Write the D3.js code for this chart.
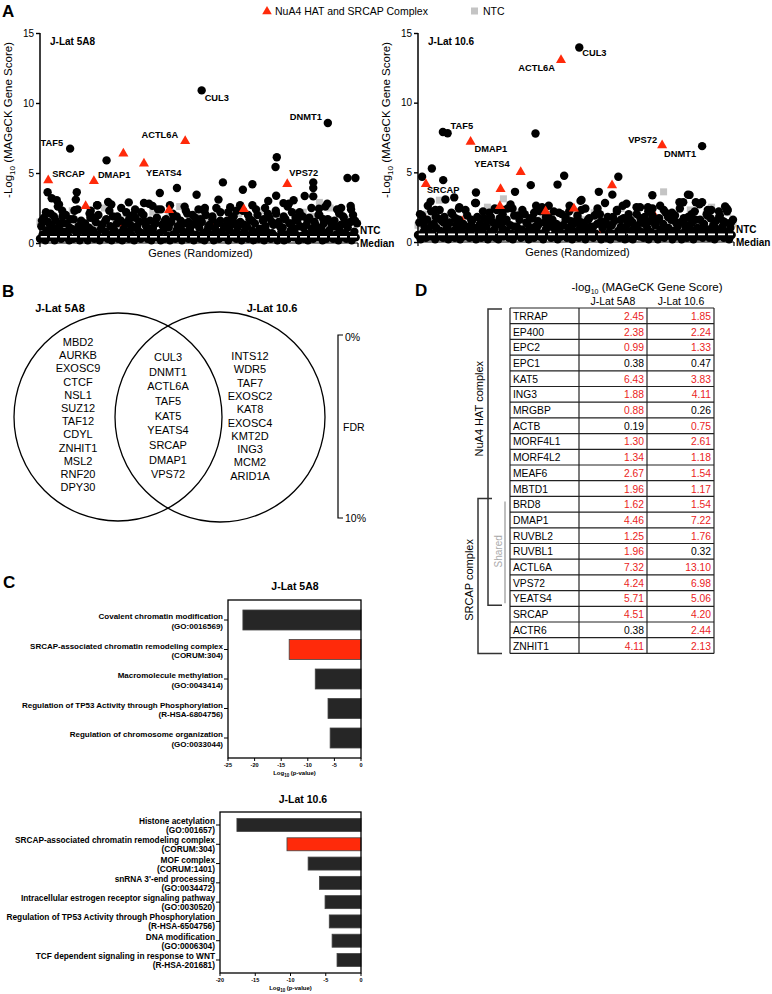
<!DOCTYPE html>
<html><head><meta charset="utf-8">
<script src="https://cdn.jsdelivr.net/npm/d3@7"></script>
<style>
body{margin:0;background:#fff}
svg{display:block}
text{font-family:"Liberation Sans",Arial,Helvetica,sans-serif}
</style>
</head><body>
<svg id="fig" width="772" height="994"></svg>
<script>
// ================= DATA =================
// Panel A : -log10 MAGeCK gene score, genes in randomized order (x = rank fraction 0..1)
const scatterTicks = [0, 5, 10, 15];
const median5A8 = 0.45, median106 = 0.55;

// bulk of genes (black circles), in randomized order
const band5A8 = [
0.3,1.2,0.6,1.8,0.2,0.9,1.5,0.4,2.1,0.7,1.1,0.2,1.6,0.5,0.9,1.3,0.3,1.9,0.8,0.4,
1.4,0.6,0.2,1.7,1.0,0.3,2.3,0.8,0.5,1.2,0.2,1.6,0.9,0.4,1.4,0.7,0.2,1.1,1.8,0.5,
0.9,0.3,1.5,0.6,2.0,0.2,1.0,1.3,0.4,0.8,1.7,0.3,0.6,1.2,0.2,1.9,0.9,0.5,1.4,0.3,
0.7,1.6,0.2,1.0,0.5,2.2,0.8,0.3,1.3,0.6,1.1,0.2,1.8,0.4,0.9,1.5,0.3,0.7,2.0,0.5,
1.2,0.3,0.8,1.6,0.2,1.0,0.6,1.4,0.4,2.4,0.7,0.2,1.3,0.9,0.3,1.7,0.5,1.1,0.2,1.5,
0.6,1.9,0.3,0.9,1.2,0.4,1.6,0.2,0.8,1.4,0.5,2.1,0.3,1.0,0.7,1.3,0.2,1.8,0.6,0.4,
1.1,0.3,1.5,0.7,0.2,2.0,0.9,0.4,1.3,0.6,1.7,0.2,1.0,0.5,1.4,0.3,2.2,0.8,0.4,1.2,
0.5,1.6,0.2,0.9,1.3,0.4,1.9,0.7,0.3,1.1,0.6,1.5,0.2,2.3,0.8,0.4,1.2,0.3,1.7,0.6,
0.9,0.2,1.4,0.6,2.0,0.3,1.0,0.5,1.6,0.2,1.2,0.8,0.4,1.8,0.3,0.7,1.3,0.5,2.1,0.2,
1.5,0.4,0.8,1.1,0.2,1.7,0.6,0.3,1.4,0.9,2.2,0.4,1.0,0.6,1.6,0.2,1.2,0.5,1.9,0.3,
0.7,1.3,0.2,1.8,0.5,1.0,0.3,1.5,0.8,0.4,2.0,0.6,1.1,0.2,1.4,0.7,0.3,1.7,0.9,0.5,
1.2,0.3,1.6,0.6,2.4,0.2,0.9,1.3,0.4,1.8,0.7,0.3,1.1,0.5,1.5,0.2,2.0,0.8,0.4,1.4];
const band106 = [
0.5,1.4,0.2,1.9,0.7,1.1,0.3,1.6,0.9,0.4,2.2,0.6,1.3,0.2,1.0,1.7,0.4,0.8,1.5,0.3,
1.8,0.6,1.0,0.2,1.4,0.5,2.0,0.8,0.3,1.2,0.7,1.6,0.2,0.9,1.3,0.4,2.3,0.6,1.1,0.3,
0.8,1.5,0.4,1.0,0.2,1.8,0.6,1.3,0.3,0.9,1.7,0.5,1.1,0.2,2.1,0.7,0.4,1.4,0.9,0.3,
1.3,0.2,1.7,0.6,1.0,0.4,1.5,0.8,2.4,0.3,1.2,0.6,0.2,1.9,0.5,1.1,0.7,1.6,0.3,0.9,
0.4,2.0,0.7,1.3,0.2,1.0,0.5,1.7,0.3,1.1,0.8,1.5,0.4,2.2,0.6,0.2,1.4,0.9,0.5,1.8,
1.1,0.3,1.6,0.5,0.9,1.3,0.2,2.1,0.7,0.4,1.2,0.6,1.8,0.3,1.0,0.5,1.5,0.2,0.8,1.4,
0.6,1.7,0.3,1.0,2.3,0.5,1.2,0.2,0.9,1.6,0.4,1.1,0.7,0.3,1.9,0.6,1.3,0.4,2.0,0.2,
1.0,0.5,1.4,0.3,1.8,0.7,0.2,1.2,0.6,1.5,0.4,2.2,0.8,0.3,1.1,0.6,1.7,0.2,0.9,1.3,
0.3,1.6,0.8,0.2,1.2,0.5,2.0,0.9,0.4,1.4,0.7,0.3,1.8,0.6,1.0,0.2,1.5,0.7,2.4,0.4,
1.2,0.6,0.2,1.7,0.9,0.4,1.3,0.3,2.1,0.7,1.0,0.5,1.6,0.2,0.8,1.9,0.4,1.1,0.6,1.4,
0.2,1.5,0.7,1.1,0.3,1.8,0.5,0.9,1.4,0.2,2.2,0.6,1.0,0.4,1.6,0.8,0.3,1.3,0.5,2.0,
0.9,0.3,1.7,0.6,1.2,0.2,1.5,0.8,0.4,1.9,0.6,1.1,0.3,1.4,0.7,2.3,0.2,1.0,0.5,1.6];
// upper part of the bulk, in randomized order
const upper5A8 = [
1.6,2.2,1.3,1.9,2.6,1.4,2.0,1.1,1.7,2.4,1.5,1.2,2.1,1.8,2.7,1.3,1.6,2.3,1.0,1.9,
2.5,1.4,1.7,2.0,1.2,2.2,1.5,2.8,1.1,1.8,2.4,1.6,1.3,2.1,1.9,1.0,2.6,1.5,2.0,1.4,
1.7,2.3,1.2,1.9,2.5,1.6,1.1,2.2,1.8,1.4,2.7,1.3,2.0,1.6,2.4,1.0,1.7,2.1,1.5,2.3,
1.2,1.9,2.6,1.4,1.8,2.2,1.1,1.6,2.5,1.3,2.0,1.7,2.8,1.5,1.2,2.1,1.9,1.4,2.4,1.6];
const upper106 = [
2.0,1.5,2.6,1.2,1.8,2.3,1.4,1.1,2.1,1.7,2.5,1.3,1.9,1.6,2.8,1.0,2.2,1.5,1.8,2.4,
1.3,2.0,1.6,2.7,1.1,1.9,2.3,1.4,1.7,2.1,1.2,2.5,1.8,1.5,2.2,1.0,2.0,1.6,2.6,1.3,
1.9,1.4,2.4,1.7,1.1,2.1,1.5,2.8,1.2,1.8,2.3,1.6,1.0,2.0,1.4,2.5,1.7,1.3,2.2,1.9,
1.5,2.6,1.1,1.8,2.1,1.4,2.4,1.7,1.2,2.0,1.6,2.7,1.3,1.9,2.3,1.0,1.8,1.5,2.2,1.4];

// non-targeting controls (grey squares), randomized order
const ntc5A8 = [1.5,0.8,2.0,1.2,0.5,1.7,2.3,0.9,1.4,0.6,1.9,1.1,2.5,0.7,1.6,1.0,2.1,0.4,1.3,1.8,
0.8,2.2,1.5,0.6,1.9,1.2,2.6,0.9,1.4,0.5,2.0,1.7,1.0,2.4,0.7,1.6,1.3,2.1,0.8,1.8,
1.1,2.3,0.6,1.5,2.0,0.9,2.7,1.4,1.2,2.2,0.8,1.9,2.9,1.6,2.5,1.1,2.0,1.7,2.4,1.4];
const ntc106 = [1.2,2.0,0.8,1.6,3.0,1.1,1.9,0.6,1.4,2.2,0.9,1.7,1.3,2.5,0.7,1.5,3.1,1.0,2.1,1.8,
0.8,1.4,2.2,1.6,1.1,2.0,0.7,1.3,1.9,2.3,1.0,1.6,0.9,2.1,1.4,1.8,0.6,1.2,2.4,1.5,
1.0,1.9,1.3,2.2,0.8,1.7,3.6,1.1,2.0,1.4,0.9,2.3,1.6,1.2,1.8,2.5,1.0,1.5,2.1,1.3];

// standout genes (black): [rank fraction, score]
const hits5A8 = [[0.51,10.9],[0.908,8.57],[0.095,6.74],[0.21,5.9],[0.747,6.12],[0.743,5.43],[0.97,4.64],[0.995,4.64],
[0.577,4.33],[0.862,4.33],[0.862,3.93],[0.862,3.33],[0.67,4.2],[0.432,3.93],[0.64,3.8],[0.024,3.62],[0.116,3.62],
[0.378,3.57],[0.494,3.45],[0.835,3.36],[0.745,3.38],[0.037,3.2],[0.113,3.1],[0.053,3.05],[0.563,3.1],[0.72,3.0],
[0.80,3.05],[0.215,2.93],[0.328,2.86],[0.768,2.85],[0.785,2.8],[0.18,2.7],[0.225,2.75],[0.28,2.9],[0.41,2.7],
[0.52,2.5],[0.60,2.55],[0.67,2.7],[0.90,2.6],[0.95,2.5],[0.11,2.35],[0.30,2.4],[0.46,2.3],[0.71,2.5],[0.06,2.75],
[0.16,2.3],[0.355,2.65],[0.88,2.45],[0.98,2.65],[0.62,2.3],[0.07,2.3],[0.50,2.4]];
const hits106 = [[0.512,13.96],[0.373,7.79],[0.079,7.9],[0.094,7.8],[0.902,6.88],[0.044,5.28],[0.013,4.68],[0.464,4.75],
[0.636,4.68],[0.443,4.12],[0.358,4.08],[0.08,4.44],[0.574,3.6],[0.308,3.6],[0.184,3.55],[0.617,3.4],[0.744,3.36],
[0.857,3.4],[0.862,3.38],[0.087,3.05],[0.115,3.2],[0.516,2.95],[0.519,3.02],[0.83,2.85],[0.842,2.85],[0.902,2.85],
[0.882,2.85],[0.662,2.75],[0.184,2.8],[0.30,2.4],[0.375,2.6],[0.415,2.6],[0.705,2.5],[0.73,2.5],[0.055,2.3],
[0.13,2.4],[0.25,2.3],[0.57,2.4],[0.78,2.3],[0.92,2.3],[0.975,2.55],[0.98,2.4],[0.04,2.9],[0.27,2.3],[0.48,2.2],
[0.65,2.6],[0.955,2.2]];

// NuA4 HAT / SRCAP complex members (red triangles): [rank fraction, score]
const complex5A8 = [[0.026,4.51],[0.17,4.46],[0.263,6.43],[0.328,5.71],[0.458,7.32],[0.78,4.24],[0.144,2.67],
[0.407,2.38],[0.643,2.45],[0.263,1.38],[0.6,1.75],[0.24,0.4],[0.05,1.6],[0.55,1.2]];
const complex106 = [[0.454,13.10],[0.167,7.22],[0.775,6.98],[0.326,5.06],[0.025,4.20],[0.262,3.83],[0.616,4.11],
[0.26,2.61],[0.495,2.44],[0.405,2.24],[0.025,1.54],[0.58,0.6],[0.75,1.9],[0.14,1.5]];

// labelled genes: [name, rank fraction, score]
const labels5A8 = [["CUL3",0.51,10.9],["DNMT1",0.908,8.57],["TAF5",0.095,6.74],["SRCAP",0.026,4.51],
["DMAP1",0.17,4.46],["ACTL6A",0.458,7.32],["YEATS4",0.328,5.71],["VPS72",0.78,4.24]];
const labels106 = [["CUL3",0.512,13.96],["ACTL6A",0.454,13.10],["TAF5",0.094,7.8],["DMAP1",0.167,7.22],
["YEATS4",0.326,5.06],["SRCAP",0.025,4.20],["VPS72",0.775,6.98],["DNMT1",0.902,6.88]];

// Panel B : Venn
const vennLeftGenes = ["MBD2","AURKB","EXOSC9","CTCF","NSL1","SUZ12","TAF12","CDYL","ZNHIT1","MSL2","RNF20","DPY30"];
const vennSharedGenes = ["CUL3","DNMT1","ACTL6A","TAF5","KAT5","YEATS4","SRCAP","DMAP1","VPS72"];
const vennRightGenes = ["INTS12","WDR5","TAF7","EXOSC2","KAT8","EXOSC4","KMT2D","ING3","MCM2","ARID1A"];

// Panel C : enrichment log10(p-value)
const go5A8Terms = [["Covalent chromatin modification","(GO:0016569)"],
["SRCAP-associated chromatin remodeling complex","(CORUM:304)"],
["Macromolecule methylation","(GO:0043414)"],
["Regulation of TP53 Activity through Phosphorylation","(R-HSA-6804756)"],
["Regulation of chromosome organization","(GO:0033044)"]];
const go5A8Values = [-22.2,-13.5,-8.6,-6.2,-5.8];
const go5A8Ticks = [-25,-20,-15,-10,-5,0];
const go106Terms = [["Histone acetylation","(GO:001657)"],
["SRCAP-associated chromatin remodeling complex","(CORUM:304)"],
["MOF complex","(CORUM:1401)"],
["snRNA 3'-end processing","(GO:0034472)"],
["Intracellular estrogen receptor signaling pathway","(GO:0030520)"],
["Regulation of TP53 Activity through Phosphorylation","(R-HSA-6504756)"],
["DNA modification","(GO:0006304)"],
["TCF dependent signaling in response to WNT","(R-HSA-201681)"]];
const go106Values = [-17.6,-10.5,-7.5,-5.9,-5.1,-4.5,-4.1,-3.4];
const go106Ticks = [-20,-15,-10,-5,0];

// Panel D : table
const tableGenes = ["TRRAP","EP400","EPC2","EPC1","KAT5","ING3","MRGBP","ACTB","MORF4L1","MORF4L2","MEAF6","MBTD1",
"BRD8","DMAP1","RUVBL2","RUVBL1","ACTL6A","VPS72","YEATS4","SRCAP","ACTR6","ZNHIT1"];
const table5A8 = [2.45,2.38,0.99,0.38,6.43,1.88,0.88,0.19,1.30,1.34,2.67,1.96,1.62,4.46,1.25,1.96,7.32,4.24,5.71,4.51,0.38,4.11];
const table106 = [1.85,2.24,1.33,0.47,3.83,4.11,0.26,0.75,2.61,1.18,1.54,1.17,1.54,7.22,1.76,0.32,13.10,6.98,5.06,4.20,2.44,2.13];
const sigThreshold = 0.5;
const nua4Rows = ["TRRAP","YEATS4"];   // first/last gene of NuA4 HAT complex
const srcapRows = ["BRD8","ZNHIT1"];   // first/last gene of SRCAP complex
const sharedRows = ["BRD8","YEATS4"];  // shared subunits

// ================= DRAWING =================
const svg = d3.select("#fig");
const FONT = '"Liberation Sans", Arial, Helvetica, sans-serif';
const RED = "#ff2a0a";
const TRED = "#ea1c1c";

function letter(t, x, y) {
  svg.append("text").attr("x", x).attr("y", y).attr("font-size", 17).attr("font-weight", "bold").text(t);
}
letter("A", 2, 17); letter("B", 2, 297); letter("C", 3, 588); letter("D", 415, 296);

// legend
svg.append("path").attr("d", d3.symbol(d3.symbolTriangle, 40)()).attr("transform", "translate(267,11.5)").attr("fill", RED);
svg.append("text").attr("x", 275).attr("y", 15).attr("font-size", 10.5).text("NuA4 HAT and SRCAP Complex");
svg.append("rect").attr("x", 471).attr("y", 7.5).attr("width", 7).attr("height", 7).attr("fill", "#c4c4c4");
svg.append("text").attr("x", 483).attr("y", 15).attr("font-size", 10.5).text("NTC");

function scatter(o) {
  const g = svg.append("g");
  const y = d3.scaleLinear().domain([0, 15]).range([o.y0, o.y15]);
  const x = d3.scaleLinear().domain([0, 1]).range([o.ax, o.ax + o.w]);
  // baseline + end ticks
  g.append("line").attr("x1", o.ax).attr("x2", o.ax + o.w + 1).attr("y1", y(0)).attr("y2", y(0)).attr("stroke", "#000").attr("stroke-width", 1.2);
  [o.ax, o.ax + o.w + 1].forEach(xx => g.append("line").attr("x1", xx).attr("x2", xx).attr("y1", y(0)).attr("y2", y(0) + 4).attr("stroke", "#000").attr("stroke-width", 1.2));
  // NTC squares
  g.selectAll(".ntc").data(o.ntc).join("rect")
    .attr("x", (d, i) => x(i / (o.ntc.length - 1)) - 3.5).attr("y", d => y(d) - 3.5)
    .attr("width", 7).attr("height", 7).attr("fill", "#c4c4c4");
  const tri = d3.symbol(d3.symbolTriangle, 44)();
  // low complex members (partially hidden)
  g.selectAll(".rlow").data(o.complex.filter(d => d[1] < 2.1)).join("path")
    .attr("d", tri).attr("transform", d => `translate(${x(d[0])},${y(d[1])})`).attr("fill", RED);
  // bulk genes
  g.selectAll(".upper").data(o.upper).join("circle")
    .attr("cx", (d, i) => x((i + 0.5) / o.upper.length)).attr("cy", d => y(d)).attr("r", 4.2).attr("fill", "#000");
  g.selectAll(".band").data(o.band).join("circle")
    .attr("cx", (d, i) => x(i / (o.band.length - 1))).attr("cy", d => y(d)).attr("r", 4.2).attr("fill", "#000");
  g.selectAll(".hit").data(o.hits).join("circle")
    .attr("cx", d => x(d[0])).attr("cy", d => y(d[1])).attr("r", 4.2).attr("fill", "#000");
  // visible complex members
  g.selectAll(".rhigh").data(o.complex.filter(d => d[1] >= 2.1)).join("path")
    .attr("d", tri).attr("transform", d => `translate(${x(d[0])},${y(d[1]) + 0.5})`).attr("fill", RED);
  // NTC median
  g.append("line").attr("x1", o.ax).attr("x2", o.ax + o.w).attr("y1", y(o.median)).attr("y2", y(o.median))
    .attr("stroke", "#fff").attr("stroke-width", 1.6).attr("stroke-dasharray", "7,3");
  // y axis
  const ax = g.append("g").attr("transform", `translate(${o.ax},0)`)
    .call(d3.axisLeft(y).tickValues(scatterTicks).tickSize(4).tickPadding(2));
  ax.select(".domain").attr("stroke-width", 1.5).attr("d", `M0,${y(0)}V${y(15)}`);
  ax.selectAll(".tick line").attr("stroke-width", 1.4);
  ax.selectAll("text").attr("font-family", FONT).attr("font-size", 10).attr("fill", "#000");
  // y title
  const yt = g.append("text").attr("transform", `translate(${o.ax - 28},${o.ytc}) rotate(-90)`)
    .attr("text-anchor", "middle").attr("font-size", 11.5);
  yt.append("tspan").text("-Log");
  yt.append("tspan").attr("font-size", 8).attr("dy", 3).text("10");
  yt.append("tspan").attr("dy", -3).text(" (MAGeCK Gene Score)");
  // x title
  g.append("text").attr("x", o.ax + o.w / 2 + 2).attr("y", o.y0 + 14).attr("text-anchor", "middle").attr("font-size", 11).text("Genes (Randomized)");
  // panel title
  g.append("text").attr("x", o.ax + 10).attr("y", 45).attr("font-size", 10).attr("font-weight", "bold").text(o.title);
  // NTC median label
  g.append("text").attr("x", o.ax + o.w + 3).attr("y", o.y0 - 9).attr("font-size", 10).attr("font-weight", "bold").text("NTC");
  g.append("text").attr("x", o.ax + o.w + 3).attr("y", o.y0 + 4).attr("font-size", 10).attr("font-weight", "bold").text("Median");
  // gene labels
  g.selectAll(".lab").data(o.labels).join("text")
    .attr("x", d => x(d[1]) + o.off[d[0]][0]).attr("y", d => y(d[2]) + o.off[d[0]][1])
    .attr("text-anchor", d => o.off[d[0]][2] || "start")
    .attr("font-size", 9.3).attr("font-weight", "bold").text(d => d[0]);
}

scatter({ax: 40, w: 317, y0: 243, y15: 33, ytc: 120, title: "J-Lat 5A8", band: band5A8, upper: upper5A8, ntc: ntc5A8, hits: hits5A8,
  complex: complex5A8, labels: labels5A8, median: median5A8,
  off: {CUL3: [3, 11], DNMT1: [-6, -3, "end"], TAF5: [-7, -3, "end"], SRCAP: [4, -3], DMAP1: [4, -3],
        ACTL6A: [-7, -3, "end"], YEATS4: [2, 13], VPS72: [2, -8]}});
scatter({ax: 418, w: 315, y0: 242, y15: 33, ytc: 120, title: "J-Lat 10.6", band: band106, upper: upper106, ntc: ntc106, hits: hits106,
  complex: complex106, labels: labels106, median: median106,
  off: {CUL3: [3, 9], ACTL6A: [-6, 12, "end"], TAF5: [3, -4], DMAP1: [4, 11], YEATS4: [-11, -4, "end"],
        SRCAP: [1, 10], VPS72: [-5, -2, "end"], DNMT1: [-6, 11, "end"]}});

// ===== Panel B : Venn =====
(function () {
  const g = svg.append("g");
  g.append("circle").attr("cx", 118).attr("cy", 417).attr("r", 104).attr("fill", "none").attr("stroke", "#000").attr("stroke-width", 1.3);
  g.append("circle").attr("cx", 220).attr("cy", 417).attr("r", 105).attr("fill", "none").attr("stroke", "#000").attr("stroke-width", 1.3);
  g.append("text").attr("x", 60).attr("y", 312).attr("text-anchor", "middle").attr("font-size", 11).attr("font-weight", "bold").text("J-Lat 5A8");
  g.append("text").attr("x", 272).attr("y", 312).attr("text-anchor", "middle").attr("font-size", 11).attr("font-weight", "bold").text("J-Lat 10.6");
  const list = (arr, cx, y0, dy) => g.selectAll(null).data(arr).join("text")
    .attr("x", cx).attr("y", (d, i) => y0 + i * dy).attr("text-anchor", "middle").attr("font-size", 11).text(d => d);
  list(vennLeftGenes, 78, 346, 13.2);
  list(vennSharedGenes, 168, 361, 14.65);
  list(vennRightGenes, 250, 360, 13.3);
  // FDR scale
  g.append("path").attr("d", "M343,335H338V518H343").attr("fill", "none").attr("stroke", "#000").attr("stroke-width", 1.2);
  g.append("text").attr("x", 345).attr("y", 341).attr("font-size", 10.5).text("0%");
  g.append("text").attr("x", 345).attr("y", 522).attr("font-size", 10.5).text("10%");
  g.append("text").attr("x", 343).attr("y", 431).attr("font-size", 10.5).text("FDR");
})();

// ===== Panel C : bar charts =====
function bars(o) {
  const g = svg.append("g");
  const x = d3.scaleLinear().domain([o.ticks[0], 0]).range([o.l, o.r]);
  const y = d3.scalePoint().domain(d3.range(o.terms.length)).range([o.t + o.pad, o.b - o.pad]);
  g.append("text").attr("x", o.titleX).attr("y", o.titleY).attr("text-anchor", "middle").attr("font-size", 10.5).attr("font-weight", "bold").text(o.title);
  g.selectAll(".bar").data(o.values).join("rect")
    .attr("x", d => x(d)).attr("y", (d, i) => y(i) - o.bh / 2).attr("width", d => x(0) - x(d)).attr("height", o.bh)
    .attr("fill", (d, i) => o.terms[i][0].startsWith("SRCAP") ? RED : "#262626")
    .attr("stroke", "#444").attr("stroke-width", 0.8);
  g.append("rect").attr("x", o.l).attr("y", o.t).attr("width", o.r - o.l).attr("height", o.b - o.t)
    .attr("fill", "none").attr("stroke", "#000").attr("stroke-width", 1.3);
  // category ticks and labels
  o.terms.forEach((tm, i) => {
    g.append("line").attr("x1", o.l - 4).attr("x2", o.l).attr("y1", y(i)).attr("y2", y(i)).attr("stroke", "#000").attr("stroke-width", 1);
    g.append("text").attr("x", o.l - 5).attr("y", y(i) - 1).attr("text-anchor", "end").attr("font-size", o.fs).attr("font-weight", "bold").text(tm[0]);
    g.append("text").attr("x", o.l - 5).attr("y", y(i) + o.lh).attr("text-anchor", "end").attr("font-size", o.fs).attr("font-weight", "bold").text(tm[1]);
  });
  // x ticks
  o.ticks.forEach(t => {
    g.append("line").attr("x1", x(t)).attr("x2", x(t)).attr("y1", o.b).attr("y2", o.b + 3).attr("stroke", "#000").attr("stroke-width", 1);
    g.append("text").attr("x", x(t)).attr("y", o.b + 8.5).attr("text-anchor", "middle").attr("font-size", 5.5).attr("font-weight", "bold").text(t);
  });
  const at = g.append("text").attr("x", (o.l + o.r) / 2).attr("y", o.b + 17).attr("text-anchor", "middle").attr("font-size", 6).attr("font-weight", "bold");
  at.append("tspan").text("Log");
  at.append("tspan").attr("font-size", 4.5).attr("dy", 1.5).text("10");
  at.append("tspan").attr("dy", -1.5).text(" (p-value)");
}
bars({l: 228, r: 361, t: 600, b: 758, pad: 20, bh: 20, fs: 8, lh: 8.5, ticks: go5A8Ticks, terms: go5A8Terms, values: go5A8Values,
  title: "J-Lat 5A8", titleX: 295, titleY: 590});
bars({l: 220, r: 361, t: 812, b: 973, pad: 13, bh: 13, fs: 8.3, lh: 8, ticks: go106Ticks, terms: go106Terms, values: go106Values,
  title: "J-Lat 10.6", titleX: 303, titleY: 803});

// ===== Panel D : table =====
(function () {
  const g = svg.append("g");
  const top = 308, rh = 15.7;
  const cols = [510, 579, 647, 714];
  const rowY = i => top + i * rh;
  const fmt = d3.format(".2f");
  const h = g.append("text").attr("x", 647).attr("y", 291).attr("text-anchor", "middle").attr("font-size", 11.5);
  h.append("tspan").text("-log");
  h.append("tspan").attr("font-size", 7).attr("dy", 2.5).text("10");
  h.append("tspan").attr("dy", -2.5).text(" (MAGeCK Gene Score)");
  g.append("text").attr("x", 613).attr("y", 305).attr("text-anchor", "middle").attr("font-size", 10.5).text("J-Lat 5A8");
  g.append("text").attr("x", 681).attr("y", 305).attr("text-anchor", "middle").attr("font-size", 10.5).text("J-Lat 10.6");
  tableGenes.forEach((gn, i) => {
    g.append("text").attr("x", cols[0] + 3).attr("y", rowY(i) + 11.8).attr("font-size", 10.3).text(gn);
    [table5A8[i], table106[i]].forEach((v, c) => {
      g.append("text").attr("x", cols[c + 2] - 3).attr("y", rowY(i) + 11.8).attr("text-anchor", "end").attr("font-size", 10.3)
        .attr("fill", v > sigThreshold ? TRED : "#000").text(fmt(v));
    });
  });
  for (let i = 0; i <= tableGenes.length; i++)
    g.append("line").attr("x1", cols[0]).attr("x2", cols[3]).attr("y1", rowY(i)).attr("y2", rowY(i)).attr("stroke", "#222").attr("stroke-width", 1.2);
  cols.forEach(cx => g.append("line").attr("x1", cx).attr("x2", cx).attr("y1", rowY(0)).attr("y2", rowY(tableGenes.length)).attr("stroke", "#222").attr("stroke-width", 1.2));
  // brackets
  const r0 = n => rowY(tableGenes.indexOf(n)), r1 = n => rowY(tableGenes.indexOf(n) + 1);
  const ny0 = r0(nua4Rows[0]) + 1, ny1 = r1(nua4Rows[1]) - 1;
  g.append("path").attr("d", `M502,${ny0}H488V${ny1}H502`).attr("fill", "none").attr("stroke", "#333").attr("stroke-width", 1.5);
  const sy0 = r0(srcapRows[0]) + 2, sy1 = r1(srcapRows[1]);
  g.append("path").attr("d", `M492,${sy0}H478V${sy1}H502`).attr("fill", "none").attr("stroke", "#333").attr("stroke-width", 1.5);
  g.append("line").attr("x1", 505).attr("x2", 505).attr("y1", r0(sharedRows[0]) + 5).attr("y2", r1(sharedRows[1]) - 3)
    .attr("stroke", "#aaa").attr("stroke-width", 1.5);
  // NuA4 label sits over the NuA4-only rows
  const nuaOnlyEnd = r0(sharedRows[0]);
  g.append("text").attr("transform", `translate(483,${(ny0 + nuaOnlyEnd) / 2 + 6}) rotate(-90)`).attr("text-anchor", "middle").attr("font-size", 11).text("NuA4 HAT complex");
  g.append("text").attr("transform", `translate(473,${(sy0 + sy1) / 2 + 4}) rotate(-90)`).attr("text-anchor", "middle").attr("font-size", 11).text("SRCAP complex");
  g.append("text").attr("transform", `translate(501.5,${(r0(sharedRows[0]) + r1(sharedRows[1])) / 2}) rotate(-90)`).attr("text-anchor", "middle").attr("font-size", 10).attr("fill", "#aaa").text("Shared");
})();
</script>
</body></html>
